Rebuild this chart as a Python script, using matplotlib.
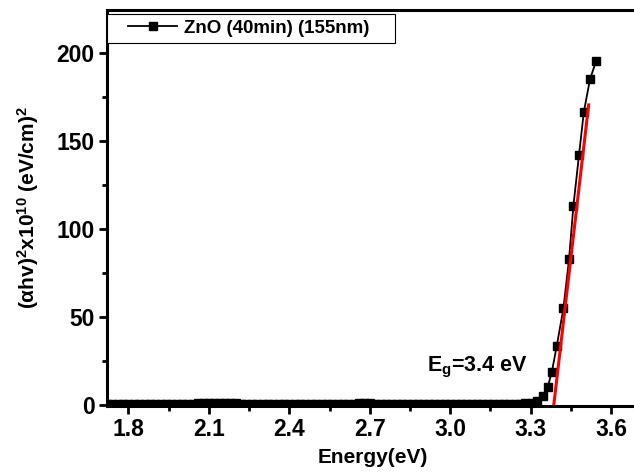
import matplotlib
matplotlib.use("Agg")
import matplotlib.pyplot as plt
from matplotlib.patches import Rectangle

plt.rcParams['font.family'] = ['Liberation Sans', 'DejaVu Sans']
plt.rcParams['font.weight'] = 'bold'
plt.rcParams['mathtext.fontset'] = 'custom'
plt.rcParams['mathtext.rm'] = 'Liberation Sans:bold'
plt.rcParams['mathtext.it'] = 'Liberation Sans:bold'
plt.rcParams['mathtext.bf'] = 'Liberation Sans:bold'

# flat part of the Tauc plot, below the absorption edge
flat_energy = [1.72, 1.74, 1.76, 1.78, 1.80, 1.82, 1.84, 1.86, 1.88, 1.90,
               1.92, 1.94, 1.96, 1.98, 2.00, 2.02, 2.04, 2.06, 2.08, 2.10,
               2.12, 2.14, 2.16, 2.18, 2.20, 2.22, 2.24, 2.26, 2.28, 2.30,
               2.32, 2.34, 2.36, 2.38, 2.40, 2.42, 2.44, 2.46, 2.48, 2.50,
               2.52, 2.54, 2.56, 2.58, 2.60, 2.62, 2.64, 2.66, 2.68, 2.70,
               2.72, 2.74, 2.76, 2.78, 2.80, 2.82, 2.84, 2.86, 2.88, 2.90,
               2.92, 2.94, 2.96, 2.98, 3.00, 3.02, 3.04, 3.06, 3.08, 3.10,
               3.12, 3.14, 3.16, 3.18, 3.20, 3.22, 3.24, 3.26, 3.28]
flat_alpha = [0.6, 0.6, 0.5, 0.5, 0.5, 0.5, 0.5, 0.5, 0.6, 0.6,
              0.6, 0.6, 0.6, 0.7, 0.7, 0.7, 0.8, 0.9, 1.0, 1.0,
              1.0, 1.0, 1.0, 0.9, 0.9, 0.8, 0.8, 0.7, 0.7, 0.7,
              0.7, 0.7, 0.7, 0.7, 0.7, 0.7, 0.7, 0.7, 0.7, 0.7,
              0.7, 0.7, 0.7, 0.7, 0.8, 0.8, 0.8, 0.9, 0.9, 0.9,
              0.8, 0.8, 0.7, 0.7, 0.7, 0.7, 0.6, 0.6, 0.6, 0.6,
              0.6, 0.6, 0.6, 0.6, 0.6, 0.6, 0.6, 0.6, 0.6, 0.6,
              0.6, 0.6, 0.6, 0.7, 0.7, 0.7, 0.7, 0.8, 0.9]

# absorption edge
edge_energy = [3.304, 3.323, 3.344, 3.363, 3.379, 3.397, 3.422, 3.443,
               3.459, 3.480, 3.498, 3.521, 3.544]
edge_alpha = [1.0, 2.4, 5.0, 10.0, 19.0, 33.5, 55.0, 83.0,
              113.0, 142.0, 166.5, 185.0, 195.5]

energy = flat_energy + edge_energy
alpha_hv2 = flat_alpha + edge_alpha

# linear extrapolation to the energy axis
fit_energy = [3.386, 3.516]
fit_alpha = [0.0, 170.5]
eg_text = 'E$_\\mathregular{g}$=3.4 eV'

fig = plt.figure(figsize=(6.34, 4.72), dpi=100)
ax = fig.add_axes([107 / 634, 1 - 405.5 / 472, (638 - 107) / 634, 395.5 / 472])

ax.plot(energy, alpha_hv2, color='black', lw=1.3, marker='s', ms=5.5,
        label='ZnO (40min) (155nm)')
ax.plot(fit_energy, fit_alpha, color='red', lw=2.2)

ax.text(2.915, 19, eg_text, fontsize=15.5, fontweight='bold')

ax.set_xlim(1.72, 3.7)
ax.set_ylim(-0.3, 224.4)
ax.set_xticks([1.8, 2.1, 2.4, 2.7, 3.0, 3.3, 3.6])
ax.set_xticks([1.95, 2.25, 2.55, 2.85, 3.15, 3.45], minor=True)
ax.set_yticks([0, 50, 100, 150, 200])
ax.set_yticks([25, 75, 125, 175], minor=True)

for s in ax.spines.values():
    s.set_linewidth(2.2)
ax.tick_params(which='major', length=6, width=2, labelsize=16.5, pad=3)
ax.tick_params(which='minor', length=3.5, width=2)

ax.set_xlabel('Energy(eV)', fontsize=15, fontweight='bold', labelpad=5)
ax.set_ylabel('(\u03b1hv)$^\\mathregular{2}$x10$^\\mathregular{10}$ (eV/cm)$^\\mathregular{2}$',
              fontsize=15, fontweight='bold', labelpad=11)

# legend box wider than its contents, drawn as its own frame
ax.add_patch(Rectangle((0.0, 0.917), 0.542, 0.073, transform=ax.transAxes,
                       facecolor='white', edgecolor='black', lw=0.8, zorder=4))
leg = ax.legend(loc='center left', bbox_to_anchor=(0.04, 0.9535), fontsize=13.5,
                frameon=False, handlelength=2.6, borderpad=0.0,
                borderaxespad=0.0, handletextpad=0.4)
leg.set_zorder(5)
for t in leg.get_texts():
    t.set_fontweight('bold')

fig.savefig('out.png', dpi=100)
